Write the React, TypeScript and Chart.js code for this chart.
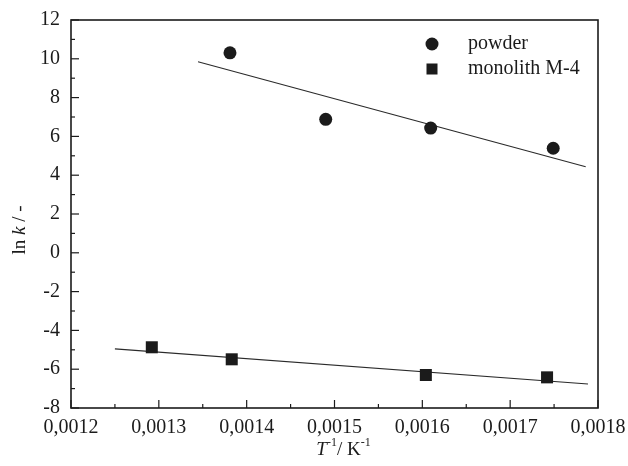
import React, { useEffect, useRef } from "react";
import { Chart, registerables } from "chart.js";

Chart.register(...registerables);

const powderX = [0.001381, 0.00149, 0.0016095, 0.001749];
const powderY = [10.31, 6.88, 6.43, 5.39];
const monolithX = [0.001292, 0.001383, 0.001604, 0.001742];
const monolithY = [-4.87, -5.49, -6.3, -6.42];
const powderFitX = [0.0013446, 0.001786];
const powderFitY = [9.85, 4.44];
const monolithFitX = [0.00125, 0.0017886];
const monolithFitY = [-4.95, -6.76];
const seriesNames = ["powder", "monolith M-4"];
const xTitleParts = ["T", "-1", "/ K", "-1"];
const yTitleParts = ["ln ", "k", " / -"];

const FONT = "'Liberation Serif', 'Times New Roman', serif";
const INK = "#1b1b1b";

const decorPlugin = {
  id: "decor",
  afterDraw(chart: any) {
    const { ctx, chartArea: a, scales } = chart;
    const xs = scales.x;
    const ys = scales.y;
    ctx.save();
    // frame
    ctx.strokeStyle = INK;
    ctx.lineWidth = 1.6;
    ctx.strokeRect(a.left, a.top, a.right - a.left, a.bottom - a.top);
    // inward ticks
    ctx.lineWidth = 1.2;
    const xMin = xs.min, xMax = xs.max;
    const xStep = 0.00005;
    const nx = Math.round((xMax - xMin) / xStep);
    for (let i = 0; i <= nx; i++) {
      const v = xMin + i * xStep;
      const px = xs.getPixelForValue(v);
      const len = i % 2 === 0 ? 8 : 4;
      ctx.beginPath();
      ctx.moveTo(px, a.bottom);
      ctx.lineTo(px, a.bottom - len);
      ctx.stroke();
    }
    const yMin = ys.min, yMax = ys.max;
    const ny = Math.round(yMax - yMin);
    for (let i = 0; i <= ny; i++) {
      const v = yMin + i;
      const py = ys.getPixelForValue(v);
      const len = i % 2 === 0 ? 8 : 4;
      ctx.beginPath();
      ctx.moveTo(a.left, py);
      ctx.lineTo(a.left + len, py);
      ctx.stroke();
    }
    // x title
    ctx.fillStyle = INK;
    ctx.textBaseline = "alphabetic";
    ctx.textAlign = "left";
    const big = `19px ${FONT}`;
    const ital = `italic 19px ${FONT}`;
    const sup = `12px ${FONT}`;
    const widths = [
      (ctx.font = ital, ctx.measureText(xTitleParts[0]).width),
      (ctx.font = sup, ctx.measureText(xTitleParts[1]).width),
      (ctx.font = big, ctx.measureText(xTitleParts[2]).width),
      (ctx.font = sup, ctx.measureText(xTitleParts[3]).width),
    ];
    const total = widths.reduce((s, w) => s + w, 0);
    let x = (a.left + a.right) / 2 - total / 2 + 9;
    const by = 455;
    ctx.font = ital; ctx.fillText(xTitleParts[0], x, by); x += widths[0];
    ctx.font = sup; ctx.fillText(xTitleParts[1], x, by - 9); x += widths[1];
    ctx.font = big; ctx.fillText(xTitleParts[2], x, by); x += widths[2];
    ctx.font = sup; ctx.fillText(xTitleParts[3], x, by - 9);
    // y title
    ctx.save();
    ctx.translate(25, 230);
    ctx.rotate(-Math.PI / 2);
    const fonts = [big, ital, big];
    const yw = yTitleParts.map((t, i) => { ctx.font = fonts[i]; return ctx.measureText(t).width; });
    let yx = -yw.reduce((s, w) => s + w, 0) / 2;
    yTitleParts.forEach((t, i) => { ctx.font = fonts[i]; ctx.fillText(t, yx, 0); yx += yw[i]; });
    ctx.restore();
    // legend
    const lx = 432;
    const rows = [44, 69];
    ctx.font = `20px ${FONT}`;
    ctx.textBaseline = "middle";
    ctx.beginPath();
    ctx.arc(lx, rows[0], 6.5, 0, Math.PI * 2);
    ctx.fill();
    ctx.fillRect(lx - 5.5, rows[1] - 5.5, 11, 11);
    ctx.fillText(seriesNames[0], 468, rows[0]);
    ctx.fillText(seriesNames[1], 468, rows[1]);
    ctx.restore();
  },
};

export default function App() {
  const ref = useRef<HTMLCanvasElement>(null);
  useEffect(() => {
    if (!ref.current) return;
    Chart.defaults.font.family = FONT;
    Chart.defaults.color = INK;
    const chart = new Chart(ref.current, {
      type: "scatter",
      data: {
        datasets: [
          {
            label: seriesNames[0],
            data: powderX.map((x, i) => ({ x, y: powderY[i] })),
            pointStyle: "circle",
            pointRadius: 6.5,
            backgroundColor: INK,
            borderColor: INK,
            borderWidth: 0,
          },
          {
            label: seriesNames[1],
            data: monolithX.map((x, i) => ({ x, y: monolithY[i] })),
            pointStyle: "rect",
            pointRadius: 8.5,
            backgroundColor: INK,
            borderColor: INK,
            borderWidth: 0,
          },
          {
            type: "line",
            label: "powder fit",
            data: powderFitX.map((x, i) => ({ x, y: powderFitY[i] })),
            pointRadius: 0,
            borderColor: "#2a2a2a",
            borderWidth: 1.1,
          } as any,
          {
            type: "line",
            label: "monolith fit",
            data: monolithFitX.map((x, i) => ({ x, y: monolithFitY[i] })),
            pointRadius: 0,
            borderColor: "#2a2a2a",
            borderWidth: 1.1,
          } as any,
        ],
      },
      options: {
        responsive: false,
        animation: false,
        layout: { padding: { top: 20, right: 30, left: 0, bottom: 0 } },
        plugins: { legend: { display: false }, tooltip: { enabled: false } },
        scales: {
          x: {
            type: "linear",
            min: 0.0012,
            max: 0.0018,
            grid: { display: false, drawTicks: false },
            border: { display: false },
            afterFit: (s: any) => { s.height = 58; s.paddingLeft = 0; s.paddingRight = 0; },
            ticks: {
              stepSize: 0.0001,
              padding: 8,
              font: { size: 20, family: FONT },
              color: INK,
              maxRotation: 0,
              autoSkip: false,
              callback: (v: any) => Number(v).toFixed(4).replace(".", ","),
            },
          },
          y: {
            type: "linear",
            min: -8,
            max: 12,
            grid: { display: false, drawTicks: false },
            border: { display: false },
            afterFit: (s: any) => { s.width = 71; s.paddingTop = 0; s.paddingBottom = 0; },
            ticks: {
              stepSize: 2,
              padding: 11,
              font: { size: 20, family: FONT },
              color: INK,
            },
          },
        },
      },
      plugins: [decorPlugin],
    } as any);
    return () => chart.destroy();
  }, []);
  return (
    <div style={{ position: "fixed", left: 0, top: 0, width: 628, height: 466, background: "#fff" }}>
      <canvas ref={ref} width={628} height={466} />
    </div>
  );
}
